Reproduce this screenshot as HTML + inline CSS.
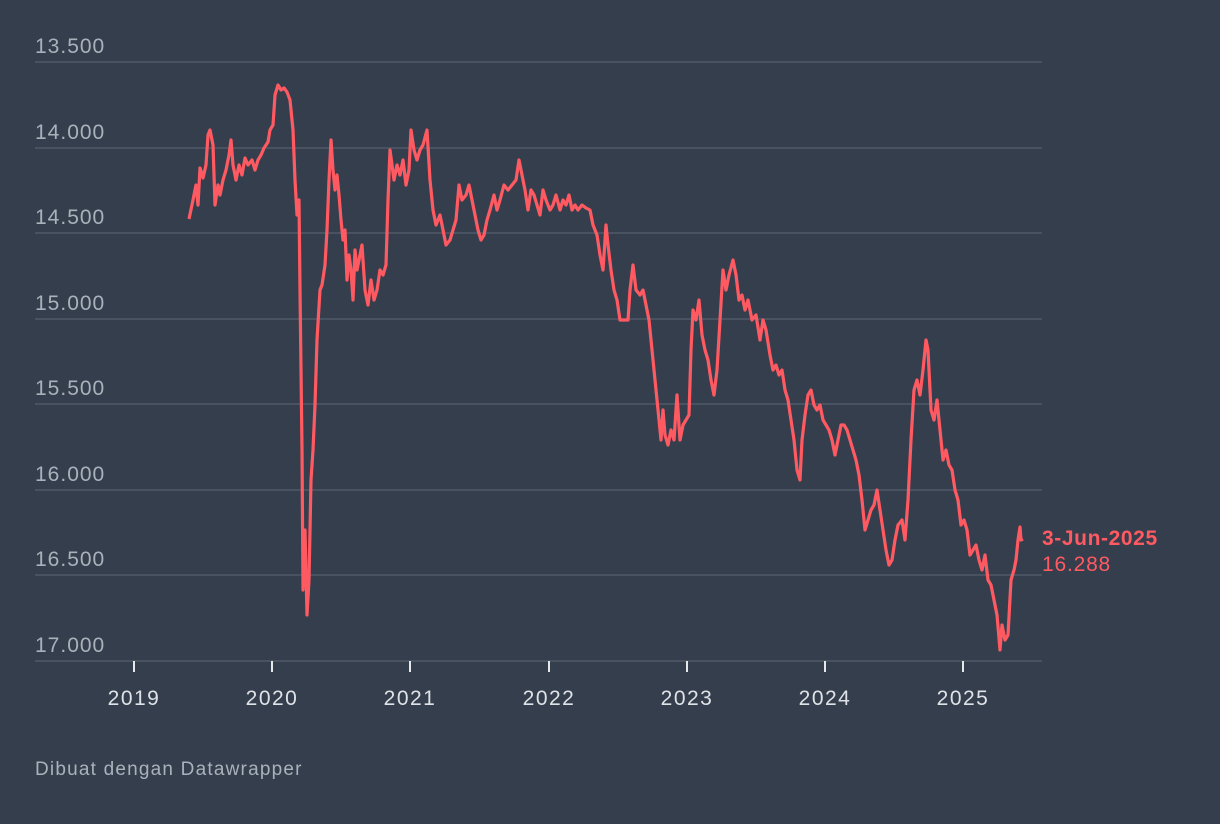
<!DOCTYPE html>
<html><head><meta charset="utf-8"><style>
html,body{margin:0;padding:0;background:#353e4d;width:1220px;height:824px;overflow:hidden}
text{font-family:"Liberation Sans",sans-serif}
</style></head><body>
<svg width="1220" height="824" xmlns="http://www.w3.org/2000/svg">
<rect width="1220" height="824" fill="#353e4d"/>
<g stroke="#4f5967" stroke-width="1.5">
<line x1="35" x2="1042" y1="62" y2="62"/><line x1="35" x2="1042" y1="148" y2="148"/>
<line x1="35" x2="1042" y1="233" y2="233"/><line x1="35" x2="1042" y1="319" y2="319"/>
<line x1="35" x2="1042" y1="404" y2="404"/><line x1="35" x2="1042" y1="490" y2="490"/>
<line x1="35" x2="1042" y1="575" y2="575"/><line x1="35" x2="1042" y1="661" y2="661"/>
</g>
<g fill="#aab1bb" font-size="21" letter-spacing="1">
<text x="35" y="53">13.500</text><text x="35" y="139">14.000</text><text x="35" y="224">14.500</text>
<text x="35" y="310">15.000</text><text x="35" y="395">15.500</text><text x="35" y="481">16.000</text>
<text x="35" y="566">16.500</text><text x="35" y="652">17.000</text>
</g>
<g stroke="#e6e8eb" stroke-width="2">
<line x1="134" x2="134" y1="661" y2="672"/><line x1="272" x2="272" y1="661" y2="672"/>
<line x1="410" x2="410" y1="661" y2="672"/><line x1="549" x2="549" y1="661" y2="672"/>
<line x1="687" x2="687" y1="661" y2="672"/><line x1="825" x2="825" y1="661" y2="672"/>
<line x1="963" x2="963" y1="661" y2="672"/>
</g>
<g fill="#dfe2e6" font-size="21" letter-spacing="1.5" text-anchor="middle">
<text x="134" y="705">2019</text><text x="272" y="705">2020</text><text x="410" y="705">2021</text>
<text x="549" y="705">2022</text><text x="687" y="705">2023</text><text x="825" y="705">2024</text>
<text x="963" y="705">2025</text>
</g>
<polyline fill="none" stroke="#ff5a62" stroke-width="3.2" stroke-linejoin="round" points="189,219 193,200 196,185 198,205 200,168 203,178 206,165 208,135 210,130 213,145 215,205 218,185 220,195 223,180 226,170 229,155 231,140 233,165 236,180 239,165 242,175 245,158 248,165 252,160 255,170 258,160 261,155 264,148 268,142 270,130 273,125 275,95 278,85 281,90 284,88 287,92 290,100 293,130 295,180 297,215 299,200 300,290 302,450 303,590 305,530 307,615 309,580 311,480 313,450 315,405 317,340 320,290 322,285 325,265 327,230 329,180 331,140 333,170 335,190 337,175 339,195 341,220 343,240 345,230 347,280 349,255 351,270 353,300 355,250 357,270 360,255 362,245 365,290 368,305 371,280 374,300 377,290 380,270 383,275 386,265 388,200 390,150 392,165 394,180 397,165 400,175 403,160 406,185 409,170 411,130 414,150 417,160 420,150 423,145 427,130 430,180 433,210 436,225 440,215 443,230 446,245 450,240 453,230 456,220 459,185 462,200 466,195 469,185 472,200 475,215 478,230 481,240 484,235 487,220 490,210 494,195 497,210 500,200 504,185 508,190 512,185 516,180 519,160 522,175 525,190 528,210 531,190 534,195 537,205 540,215 543,190 546,200 550,210 553,205 556,195 560,210 563,200 566,205 569,195 572,210 575,205 578,210 582,205 586,208 590,210 593,225 597,235 600,255 603,270 606,225 608,245 611,270 614,290 617,300 620,320 624,320 628,320 630,290 633,265 636,290 640,295 643,290 646,305 649,320 652,350 655,380 658,410 661,440 663,410 665,435 668,445 671,430 674,440 677,395 680,440 683,425 686,420 689,415 691,350 693,310 696,320 699,300 702,335 705,350 708,360 711,380 714,395 717,370 720,320 723,270 726,290 729,275 733,260 736,275 739,300 742,295 745,310 748,300 752,320 756,315 760,340 763,320 766,330 770,355 773,370 776,365 779,375 782,370 785,390 788,400 791,420 794,440 797,470 800,480 802,440 805,415 808,395 811,390 814,405 817,410 820,405 823,420 826,425 829,430 832,440 835,455 838,440 841,425 844,425 847,430 850,440 853,450 856,460 859,475 862,500 865,530 868,520 871,510 874,505 877,490 880,510 883,530 886,550 889,565 892,560 895,540 898,525 902,520 905,540 908,500 911,440 914,390 917,380 920,395 923,370 926,340 928,350 931,410 934,420 937,400 940,430 943,460 946,450 949,465 952,470 955,490 958,500 961,525 964,520 967,530 970,555 973,550 976,545 979,560 982,570 985,555 988,580 991,585 994,600 997,615 1000,650 1002,625 1005,640 1008,635 1011,580 1014,570 1016,560 1018,540 1020,527 1021,540 1023,539"/>
<text x="1042" y="545" fill="#ff5a62" font-size="21" font-weight="bold" letter-spacing="0.6">3-Jun-2025</text>
<text x="1042" y="571" fill="#ff5a62" font-size="21" letter-spacing="0.8">16.288</text>
<text x="35" y="775" fill="#aab1bb" font-size="19" letter-spacing="1.2">Dibuat dengan Datawrapper</text>
</svg>
</body></html>
